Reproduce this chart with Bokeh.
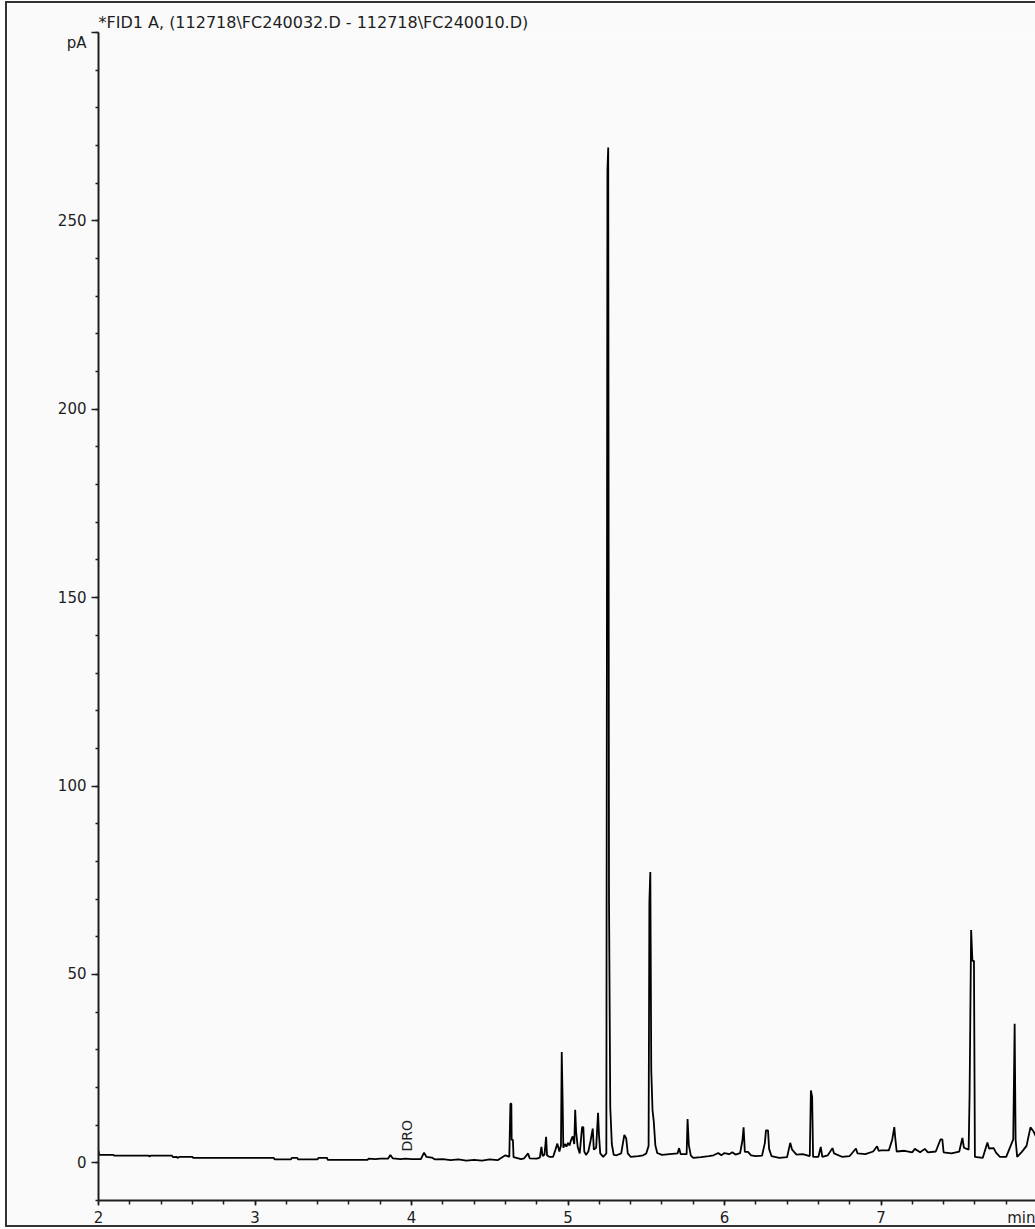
import math
from bokeh.plotting import figure
from bokeh.models import Range1d, Label, Title, FixedTicker
from bokeh.embed import file_html
from bokeh.resources import INLINE

# ---------------- data ----------------
title_text = "*FID1 A,  (112718\\FC240032.D - 112718\\FC240010.D)"
y_unit = "pA"
x_unit = "min"

x_ticks = [2, 3, 4, 5, 6, 7, 8]
y_ticks = [0, 50, 100, 150, 200, 250, 300]

marker_text = ["DRO"]
marker_time = [3.97]
marker_level = [3.0]

rt = [
    2.000, 2.004, 2.095, 2.100, 2.320, 2.325, 2.335, 2.470, 2.475, 2.500,
    2.505, 2.520, 2.560, 2.600, 2.605, 3.120, 3.125, 3.230, 3.235, 3.270,
    3.275, 3.400, 3.405, 3.460, 3.465, 3.720, 3.725, 3.770, 3.800, 3.850,
    3.865, 3.880, 3.930, 3.960, 4.000, 4.060, 4.080, 4.095, 4.130, 4.150,
    4.200, 4.250, 4.300, 4.350, 4.400, 4.450, 4.500, 4.550, 4.580, 4.600,
    4.625, 4.632, 4.638, 4.640, 4.648, 4.652, 4.700, 4.720, 4.745, 4.755,
    4.800, 4.820, 4.830, 4.838, 4.850, 4.860, 4.866, 4.880, 4.905, 4.920,
    4.932, 4.945, 4.955, 4.960, 4.966, 4.970, 4.980, 4.990, 5.000, 5.010,
    5.020, 5.030, 5.040, 5.046, 5.052, 5.062, 5.075, 5.090, 5.098, 5.104,
    5.115, 5.130, 5.145, 5.158, 5.165, 5.180, 5.192, 5.198, 5.206, 5.225,
    5.245, 5.252, 5.257, 5.262, 5.270, 5.280, 5.292, 5.310, 5.340, 5.360,
    5.372, 5.382, 5.400, 5.450, 5.480, 5.500, 5.515, 5.520, 5.526, 5.532,
    5.540, 5.548, 5.558, 5.570, 5.600, 5.650, 5.700, 5.710, 5.720, 5.758,
    5.764, 5.772, 5.785, 5.800, 5.850, 5.900, 5.930, 5.960, 5.980, 6.000,
    6.030, 6.050, 6.070, 6.100, 6.115, 6.122, 6.130, 6.150, 6.170, 6.200,
    6.240, 6.258, 6.265, 6.278, 6.285, 6.300, 6.350, 6.400, 6.420, 6.432,
    6.460, 6.500, 6.545, 6.552, 6.560, 6.566, 6.600, 6.615, 6.625, 6.660,
    6.690, 6.700, 6.750, 6.800, 6.840, 6.850, 6.900, 6.950, 6.975, 6.985,
    7.000, 7.050, 7.072, 7.085, 7.092, 7.100, 7.150, 7.200, 7.216, 7.250,
    7.280, 7.300, 7.350, 7.380, 7.392, 7.400, 7.450, 7.500, 7.520, 7.530,
    7.560, 7.566, 7.576, 7.584, 7.594, 7.600, 7.650, 7.680, 7.690, 7.720,
    7.735, 7.760, 7.800, 7.845, 7.854, 7.860, 7.870, 7.900, 7.930, 7.955,
    7.975, 8.000,
]
signal = [
    3.2, 2.1, 2.1, 1.9, 1.9, 1.7, 1.9, 1.9, 1.5, 1.6,
    1.3, 1.6, 1.6, 1.6, 1.3, 1.3, 0.9, 0.9, 1.3, 1.3,
    0.9, 0.9, 1.3, 1.3, 0.8, 0.8, 1.1, 1.0, 1.1, 1.1,
    2.1, 1.2, 1.0, 1.1, 1.0, 1.0, 2.7, 1.6, 1.4, 0.9,
    1.0, 0.7, 0.9, 0.6, 0.8, 0.6, 0.9, 0.7, 1.5, 2.0,
    1.6, 15.7, 15.7, 6.1, 6.1, 1.5, 1.0, 1.2, 2.5, 1.2,
    1.1, 1.4, 4.2, 1.8, 2.2, 6.9, 2.0, 1.6, 1.6, 3.5,
    5.1, 3.0, 4.6, 29.4, 15.7, 4.0, 5.0, 4.3, 5.3, 4.6,
    6.1, 7.0, 5.0, 14.1, 8.2, 4.2, 2.5, 9.5, 9.5, 3.0,
    2.1, 3.0, 6.0, 9.1, 3.5, 4.0, 13.3, 7.4, 2.5, 1.6,
    2.5, 263.4, 269.5, 70.0, 14.8, 5.0, 2.1, 2.0, 2.5, 7.4,
    6.5, 2.5, 1.6, 1.8, 2.0, 2.5, 4.5, 69.2, 77.2, 24.6,
    14.0, 11.0, 4.7, 2.6, 2.1, 2.3, 2.5, 3.9, 2.3, 2.3,
    11.6, 4.7, 1.9, 1.3, 1.5, 1.8, 2.0, 2.6, 2.0, 2.6,
    2.3, 2.8, 2.2, 2.6, 6.1, 9.4, 2.9, 2.9, 2.0, 1.8,
    1.9, 5.3, 8.6, 8.6, 3.7, 1.8, 1.3, 1.5, 5.3, 3.5,
    2.2, 2.3, 1.8, 19.2, 17.5, 1.6, 1.6, 4.2, 1.6, 2.0,
    3.9, 2.5, 1.6, 1.8, 3.8, 2.5, 2.3, 3.0, 4.4, 3.2,
    3.3, 3.3, 6.2, 9.5, 6.2, 3.0, 3.2, 2.8, 3.7, 2.8,
    3.7, 2.8, 3.0, 6.2, 6.2, 2.8, 2.5, 3.0, 6.6, 4.0,
    3.5, 18.0, 61.8, 53.6, 53.6, 1.6, 1.3, 5.4, 3.8, 3.9,
    2.7, 1.6, 1.6, 6.2, 36.9, 6.2, 1.6, 2.9, 4.5, 9.4,
    8.3, 6.0,
]

# ---------------- figure ----------------
FONT = "DejaVu Sans"
INK = "#1e1e1e"
BG = "#fafafa"

p = figure(
    width=1030, height=1226,
    x_range=Range1d(2, 8), y_range=Range1d(-10, 300),
    output_backend="svg", toolbar_location=None,
    min_border_left=91, min_border_right=0,
    min_border_top=28, min_border_bottom=22,
    background_fill_color=BG, border_fill_color=BG,
    outline_line_color=None,
)
p.styles = {
    "margin-left": "5px",
    "margin-top": "1px",
    "border-left": "2px solid #333",
    "border-top": "2px solid #333",
    "border-bottom": "2px solid #333",
}

p.title = Title(text=title_text, align="left", offset=0, standoff=2,
                padding=(0, 0, 6, 0),
                text_font=FONT, text_font_size="16px",
                text_font_style="normal", text_color=INK)

p.xgrid.visible = False
p.ygrid.visible = False

for ax in (p.xaxis[0], p.yaxis[0]):
    ax.axis_line_color = INK
    ax.axis_line_width = 2
    ax.major_tick_line_color = INK
    ax.minor_tick_line_color = INK
    ax.major_tick_line_width = 1.5
    ax.minor_tick_line_width = 1.5
    ax.major_tick_in = 0
    ax.minor_tick_in = 0
    ax.major_label_text_font = FONT
    ax.major_label_text_font_size = "15px"
    ax.major_label_text_color = INK

p.xaxis.ticker = FixedTicker(ticks=x_ticks,
                             minor_ticks=[x_ticks[0] + 0.2 * i for i in range(31)])
p.xaxis.major_label_overrides = {8: x_unit}
p.xaxis.major_tick_out = 5
p.xaxis.minor_tick_out = 4
p.xaxis.major_label_standoff = 3

p.yaxis.ticker = FixedTicker(ticks=y_ticks,
                             minor_ticks=[-10 + 10 * i for i in range(32)])
p.yaxis.major_label_overrides = {300: "\n" + y_unit}
p.yaxis.major_tick_out = 7
p.yaxis.minor_tick_out = 3
p.yaxis.major_label_standoff = 5

p.line(rt, signal, line_color="#000000", line_width=1.8)

for t, xv, yv in zip(marker_text, marker_time, marker_level):
    p.add_layout(Label(x=xv, y=yv, text=t, angle=math.pi / 2,
                       text_align="left", text_baseline="middle",
                       text_font=FONT, text_font_size="14px", text_color=INK))

open("out.html", "w").write(file_html(p, INLINE))
